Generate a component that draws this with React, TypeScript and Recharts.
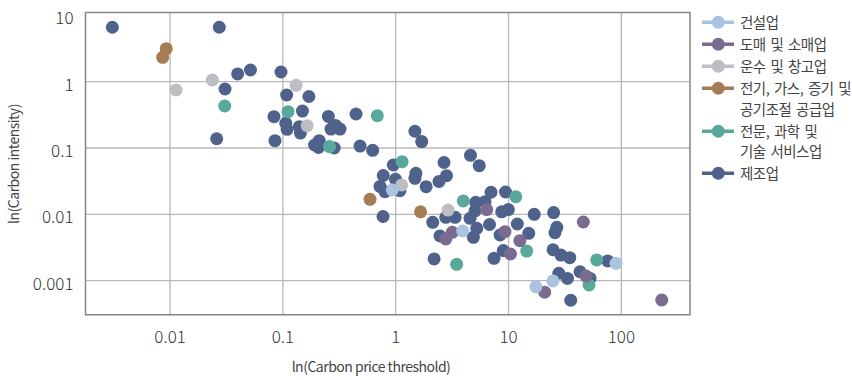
import { CartesianGrid, Label, ReferenceArea, Scatter, ScatterChart, XAxis, YAxis } from "recharts";

// log-log scatter: carbon price threshold vs carbon intensity, by industry
const xTicks = [0.01, 0.1, 1, 10, 100];
const yTicks = [0.001, 0.01, 0.1, 1, 10];
const yGridValues = [0.001, 0.01, 0.1, 1];
const xDomain = [0.00178, 406];
const yDomain = [0.000306, 11.06];

const seriesNames = [
  "건설업",
  "도매 및 소매업",
  "운수 및 창고업",
  "전기, 가스, 증기 및\n공기조절 공급업",
  "전문, 과학 및\n기술 서비스업",
  "제조업",
];
const seriesColors = ["#a9c3e0", "#7b6b91", "#bdbec3", "#a57d55", "#58a89c", "#4f628c"];

// [price threshold, carbon intensity]
const construction = [
  [0.933, 0.0233], [3.93, 0.0056], [17.5, 0.00081], [24.7, 0.00099], [89.8, 0.00182],
];
const wholesale = [
  [6.41, 0.0118], [3.17, 0.00535], [2.78, 0.00424], [9.31, 0.00547], [12.6, 0.004],
  [10.4, 0.00252], [46.0, 0.00766], [48.7, 0.00117], [20.9, 0.00067], [228, 0.00051],
];
const transport = [
  [0.0113, 0.75], [0.0237, 1.06], [0.131, 0.883], [0.164, 0.217], [1.13, 0.0277], [2.91, 0.0116],
];
const utilities = [
  [0.00925, 3.15], [0.0086, 2.33], [0.592, 0.0168], [1.66, 0.0109],
];
const professional = [
  [0.0305, 0.43], [0.111, 0.353], [0.687, 0.307], [0.259, 0.105], [1.14, 0.0621], [3.97, 0.0159],
  [11.6, 0.0184], [14.5, 0.00279], [3.47, 0.00176], [60.5, 0.00205], [51.7, 0.00086],
];
const manufacturing = [
  [0.00308, 6.62], [0.0273, 6.62], [0.0307, 0.776], [0.0397, 1.31], [0.0516, 1.5], [0.0259, 0.138],
  [0.0962, 1.4], [0.108, 0.63], [0.17, 0.598], [0.0834, 0.297], [0.149, 0.361], [0.106, 0.236],
  [0.109, 0.191], [0.14, 0.21], [0.143, 0.168], [0.0851, 0.129], [0.253, 0.299], [0.445, 0.326],
  [0.267, 0.193], [0.293, 0.219], [0.321, 0.193], [0.191, 0.111], [0.21, 0.129], [0.207, 0.102],
  [0.285, 0.1], [0.483, 0.107], [0.625, 0.0923], [1.48, 0.179], [1.7, 0.125], [0.952, 0.0554],
  [2.68, 0.0604], [4.6, 0.0776], [5.5, 0.0541], [0.776, 0.0385], [0.996, 0.0338], [0.726, 0.0263],
  [0.804, 0.0219], [1.09, 0.0227], [1.51, 0.0415], [1.48, 0.0349], [1.86, 0.0261], [2.42, 0.0313],
  [2.82, 0.0382], [0.772, 0.00927], [7.0, 0.0215], [9.4, 0.0217], [5.12, 0.0152], [6.19, 0.0155],
  [5.05, 0.0113], [8.7, 0.0109], [9.96, 0.0118], [16.9, 0.01], [25.1, 0.0106], [2.13, 0.00757],
  [2.78, 0.00901], [3.36, 0.00901], [4.56, 0.00871], [6.79, 0.00702], [11.97, 0.00714], [5.23, 0.00615],
  [4.88, 0.0045], [15.1, 0.00517], [2.47, 0.00471], [8.41, 0.00487], [26.8, 0.00637], [25.8, 0.00528],
  [8.99, 0.00284], [2.19, 0.00212], [7.44, 0.00217], [24.8, 0.00292], [29.1, 0.00243], [34.9, 0.00222],
  [75.7, 0.00198], [27.9, 0.00129], [33.3, 0.00108], [43.0, 0.00136], [52.8, 0.00108], [35.6, 0.000505],
];

const seriesPoints = [construction, wholesale, transport, utilities, professional, manufacturing];

const tickFont = "'Noto Sans CJK KR', 'Noto Sans', sans-serif";

function Dot(props: any) {
  const { cx, cy, fill } = props;
  if (cx == null || cy == null) return null;
  return <circle cx={cx} cy={cy} r={6.5} fill={fill} />;
}

function XTick(props: any) {
  const { x, y, payload } = props;
  return (
    <text x={x} y={y + 28} textAnchor="middle" fontSize={17} fontWeight={300} fill="#333" fontFamily={tickFont}>
      {payload.value}
    </text>
  );
}

function YTick(props: any) {
  const { x, y, payload } = props;
  return (
    <text x={x - 12} y={y + 9} textAnchor="end" fontSize={17} fontWeight={300} fill="#333" fontFamily={tickFont}>
      {payload.value}
    </text>
  );
}

function XTitle() {
  return (
    <text x={371} y={372} textAnchor="middle" fontSize={14} letterSpacing={-0.5} fill="#444" fontFamily={tickFont}>
      ln(Carbon price threshold)
    </text>
  );
}

function YTitle() {
  return (
    <text
      x={0}
      y={0}
      transform="translate(18.5,164) rotate(-90)"
      textAnchor="middle"
      fontSize={14}
      letterSpacing={-0.5}
      fill="#444"
      fontFamily={tickFont}
    >
      ln(Carbon intensity)
    </text>
  );
}

function ChartLegend() {
  return (
    <div
      style={{
        position: "absolute",
        left: 701,
        top: 12,
        fontFamily: tickFont,
        fontSize: 14.5,
        color: "#444",
        letterSpacing: -0.5,
        wordSpacing: 2,
      }}
    >
      {seriesNames.map((name, i) => (
        <div key={name} style={{ display: "flex", alignItems: "flex-start", marginBottom: 1.5 }}>
          <svg width={39} height={20.5} style={{ flex: "none" }}>
            <line x1={1} x2={33} y1={10.25} y2={10.25} stroke={seriesColors[i]} strokeWidth={3.5} />
            <circle cx={17.3} cy={10.25} r={6.5} fill={seriesColors[i]} />
          </svg>
          <div style={{ lineHeight: "20.5px", whiteSpace: "pre" }}>{name}</div>
        </div>
      ))}
    </div>
  );
}

// draw navy first so lighter series sit on top
const drawOrder = [5, 4, 3, 2, 1, 0];

export default function App() {
  return (
    <div style={{ position: "absolute", left: 0, top: 0, width: 852, height: 380, background: "#fff" }}>
      <ScatterChart width={852} height={380} margin={{ top: 12.5, left: 25.5, right: 162, bottom: 35.3 }}>
        <CartesianGrid
          stroke="#b8b8b8"
          strokeWidth={1.3}
          horizontalValues={yGridValues}
          verticalValues={xTicks}
        />
        <XAxis
          type="number"
          dataKey="x"
          scale="log"
          domain={xDomain}
          allowDataOverflow
          ticks={xTicks}
          height={30}
          axisLine={false}
          tickLine={false}
          tickSize={0}
          tickMargin={0}
          tick={<XTick />}
          label={<Label content={<XTitle />} />}
        />
        <YAxis
          type="number"
          dataKey="y"
          scale="log"
          domain={yDomain}
          allowDataOverflow
          ticks={yTicks}
          width={60}
          axisLine={false}
          tickLine={false}
          tickSize={0}
          tickMargin={0}
          tick={<YTick />}
          label={<Label content={<YTitle />} />}
        />
        <ReferenceArea
          x1={xDomain[0]}
          x2={xDomain[1]}
          y1={yDomain[0]}
          y2={yDomain[1]}
          fill="none"
          fillOpacity={0}
          stroke="#858585"
          strokeWidth={1.5}
          ifOverflow="visible"
        />
        {drawOrder.map((i) => (
          <Scatter
            key={seriesNames[i]}
            name={seriesNames[i]}
            data={seriesPoints[i].map(([x, y]) => ({ x, y }))}
            fill={seriesColors[i]}
            shape={<Dot />}
            isAnimationActive={false}
          />
        ))}
      </ScatterChart>
      <ChartLegend />
    </div>
  );
}
